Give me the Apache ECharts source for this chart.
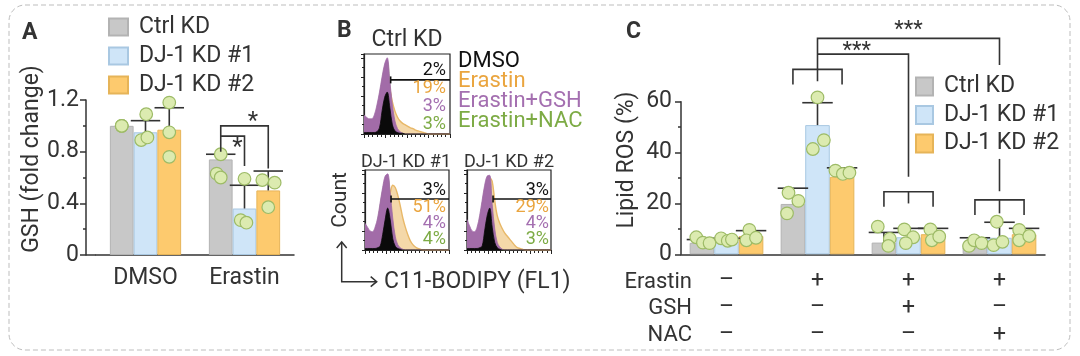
<!DOCTYPE html>
<html><head><meta charset="utf-8">
<script src="https://cdn.jsdelivr.net/npm/echarts@6/dist/echarts.min.js"></script>
<style>html,body{margin:0;padding:0;background:#fff}#c{width:1080px;height:356px}</style>
</head><body><div id="c"></div><script>
// ---------- DATA ----------
const seriesNames = ['Ctrl KD', 'DJ-1 KD #1', 'DJ-1 KD #2'];

// Panel A: GSH (fold change)
const gshCategories = ['DMSO', 'Erastin'];
const gshMeanCtrl = [1.00, 0.74];
const gshMeanKD1 = [0.95, 0.36];
const gshMeanKD2 = [0.97, 0.50];
const gshUpperCtrl = [1.00, 0.78];
const gshUpperKD1 = [1.04, 0.54];
const gshUpperKD2 = [1.14, 0.65];
const gshPtsCtrl = [[1.00, 1.00, 1.00], [0.78, 0.63, 0.60]];
const gshPtsKD1 = [[1.09, 0.89, 0.91], [0.59, 0.27, 0.25]];
const gshPtsKD2 = [[1.18, 0.95, 0.76], [0.58, 0.56, 0.37]];
const gshJitCtrl = [[0, 0, 0], [0, -0.17, 0]];
const gshJitKD1 = [[0.03, -0.18, 0.08], [0, -0.16, 0.08]];
const gshJitKD2 = [[0, 0, 0], [-0.25, 0.27, 0]];
const gshTicks = [0, 0.4, 0.8, 1.2];
// brackets: polylines of [category, bar slot, value]
const gshBrackets = [
  [[1, 0, 0.80], [1, 0, 1.00], [1, 2, 1.00], [1, 2, 0.67]],
  [[1, 0, 0.92], [1, 1, 0.92], [1, 1, 0.69]]
];
const gshStars = [[1, 1.35, 1.07, '*'], [1, 0.7, 0.87, '*']];

// Panel B: flow cytometry histograms (relative counts vs. gate position)
const histX = [0,0.03,0.06,0.09,0.12,0.15,0.18,0.21,0.24,0.27,0.30,0.33,0.36,0.39,0.42,0.45,0.48,0.51,0.54,0.57,0.60,0.63,0.66,0.69,0.72,0.75,0.85,1.0];
const histCtrlDMSO = [0.02,0.02,0.02,0.02,0.02,0.03,0.08,0.30,0.48,0.55,0.35,0.12,0.04,0.02,0.01,0.01,0,0,0,0,0,0,0,0,0,0,0,0];
const histCtrlErastin = [0.05,0.05,0.05,0.06,0.10,0.20,0.35,0.55,0.72,0.75,0.60,0.42,0.30,0.22,0.17,0.14,0.12,0.10,0.08,0.07,0.05,0.04,0.03,0.02,0.01,0,0,0];
const histCtrlGSH = [0.25,0.22,0.20,0.20,0.25,0.38,0.55,0.75,0.92,1.00,0.70,0.38,0.17,0.07,0.03,0.01,0,0,0,0,0,0,0,0,0,0,0,0];
const histCtrlNAC = [0.20,0.18,0.16,0.16,0.20,0.32,0.50,0.70,0.88,0.95,0.65,0.33,0.14,0.05,0.02,0,0,0,0,0,0,0,0,0,0,0,0,0];
const histKD1DMSO = [0.02,0.02,0.02,0.02,0.02,0.03,0.05,0.20,0.40,0.55,0.40,0.15,0.05,0.02,0.01,0,0,0,0,0,0,0,0,0,0,0,0,0];
const histKD1Erastin = [0.05,0.05,0.05,0.05,0.06,0.08,0.12,0.20,0.35,0.60,0.75,0.85,0.82,0.72,0.58,0.42,0.30,0.20,0.12,0.07,0.04,0.02,0.01,0,0,0,0,0];
const histKD1GSH = [0.35,0.30,0.25,0.24,0.30,0.42,0.62,0.82,0.97,1.00,0.75,0.42,0.18,0.07,0.03,0.01,0,0,0,0,0,0,0,0,0,0,0,0];
const histKD1NAC = [0.30,0.26,0.22,0.20,0.26,0.38,0.58,0.78,0.92,0.95,0.70,0.38,0.15,0.05,0.02,0,0,0,0,0,0,0,0,0,0,0,0,0];
const histKD2DMSO = [0.02,0.02,0.02,0.02,0.02,0.03,0.05,0.25,0.45,0.55,0.30,0.10,0.03,0.01,0,0,0,0,0,0,0,0,0,0,0,0,0,0];
const histKD2Erastin = [0.05,0.05,0.05,0.05,0.06,0.10,0.20,0.40,0.70,0.95,0.90,0.65,0.45,0.35,0.28,0.22,0.18,0.14,0.10,0.06,0.03,0.02,0.01,0,0,0,0,0];
const histKD2GSH = [0.40,0.32,0.25,0.24,0.30,0.45,0.65,0.85,0.97,0.98,0.60,0.28,0.10,0.04,0.01,0,0,0,0,0,0,0,0,0,0,0,0,0];
const histKD2NAC = [0.32,0.27,0.22,0.20,0.26,0.40,0.60,0.80,0.92,0.93,0.55,0.24,0.08,0.03,0,0,0,0,0,0,0,0,0,0,0,0,0,0];
const histTitles = ['Ctrl KD', 'DJ-1 KD #1', 'DJ-1 KD #2'];
const gateStart = [0.31, 0.31, 0.31];
const gateLevel = [0.71, 0.67, 0.67];
const treatNames = ['DMSO', 'Erastin', 'Erastin+GSH', 'Erastin+NAC'];
const pctCtrl = ['2%', '19%', '3%', '3%'];
const pctKD1 = ['3%', '51%', '4%', '4%'];
const pctKD2 = ['3%', '29%', '4%', '3%'];

// Panel C: Lipid ROS (%)
const rosCategories = ['DMSO', 'Erastin', 'Erastin+GSH', 'Erastin+NAC'];
const rowErastin = ['–', '+', '+', '+'];
const rowGSH = ['–', '–', '+', '–'];
const rowNAC = ['–', '–', '–', '+'];
const rosMeanCtrl = [4.5, 19.8, 4.6, 4.3];
const rosMeanKD1 = [5.0, 50.8, 6.7, 6.5];
const rosMeanKD2 = [7.2, 30.5, 7.9, 7.9];
const rosUpperCtrl = [5.8, 26.0, 8.6, 6.5];
const rosUpperKD1 = [6.3, 59.6, 10.2, 12.6];
const rosUpperKD2 = [9.3, 34.0, 10.2, 10.2];
const rosPtsCtrl = [[6.7, 4.6, 4.4], [24.2, 21.0, 16.1], [10.9, 6.1, 3.3], [3.3, 5.5, 4.4]];
const rosPtsKD1 = [[6.3, 5.3, 5.8], [61.7, 41.4, 44.9], [9.8, 6.7, 4.4], [12.8, 3.6, 4.9]];
const rosPtsKD2 = [[9.6, 5.5, 6.5], [32.9, 31.6, 32.1], [9.8, 5.5, 7.0], [9.6, 5.5, 7.2]];
const rosJitCtrl = [[-0.23, 0.04, 0.31], [-0.18, 0.22, -0.24], [-0.25, 0.24, 0.18], [-0.24, -0.03, 0.27]];
const rosJitKD1 = [[-0.22, 0.05, 0.22], [0, -0.19, 0.26], [-0.17, 0.19, -0.11], [-0.11, -0.24, 0.12]];
const rosJitKD2 = [[-0.07, -0.19, 0.2], [-0.27, 0.03, 0.3], [-0.11, -0.05, 0.25], [-0.2, -0.2, 0.21]];
const rosTicks = [0, 20, 40, 60];
const rosBrackets = [
  [[1, 0, 66.8], [1, 0, 72.7], [1, 2, 72.7], [1, 2, 66.8]],
  [[1, 1, 68.0], [1, 1, 84.9], [3, 1, 84.9], [3, 1, 74.4]],
  [[1, 1, 78.7], [2, 1, 78.7], [2, 1, 30.5]],
  [[2, 0, 18.7], [2, 0, 24.6], [2, 2, 24.6], [2, 2, 18.7]],
  [[2, 1, 24.6], [2, 1, 20.0]],
  [[3, 1, 37.5], [3, 1, 24.8]],
  [[3, 0, 15.5], [3, 0, 21.4], [3, 2, 21.4], [3, 2, 15.5]],
  [[3, 1, 21.4], [3, 1, 16.1]]
];
const rosStars = [[1, 2.6, 81.6, '***'], [2, 1, 89.8, '***']];

// ---------- STYLE ----------
const FONT = 'Roboto, "Noto Sans", sans-serif';
const TXT = '#333';
const FS = 23;
const barFill = ['#c8c8c8', '#cfe5f8', '#fdca6e'];
const barEdge = ['#b3b3b3', '#a9c8e2', '#e6b458'];
const dotFill = '#dcebb0';
const dotEdge = '#9dbb66';
const histColors = { DMSO: '#0a0a0a', Erastin: '#efc884', GSH: '#a26ca8', NAC: '#8cb85e' };

const chart = echarts.init(document.getElementById('c'), null, { renderer: 'canvas' });

function barSeries(ax, data, k, width) {
  return {
    type: 'bar', name: seriesNames[k], xAxisIndex: ax, yAxisIndex: ax, data: data,
    barWidth: width, barGap: '0%', silent: true, z: 2,
    itemStyle: { color: barFill[k], borderColor: barEdge[k], borderWidth: 1 }
  };
}
function errSeries(ax, means, uppers, k, frac) {
  return {
    type: 'custom', xAxisIndex: ax, yAxisIndex: ax, z: 3, clip: false, silent: true,
    data: means.map((m, i) => [i, uppers[i], m]),
    encode: { x: 0, y: 1 },
    renderItem(params, api) {
      if (api.value(1) <= api.value(2)) return null;
      const cat = api.value(0);
      const bw = api.size([1, 0])[0] * frac;
      const x = api.coord([cat, 0])[0] + (k - 1) * bw;
      const yT = api.coord([cat, api.value(1)])[1];
      const yM = api.coord([cat, api.value(2)])[1];
      const h = bw * 0.62;
      const st = { stroke: '#333', lineWidth: 1.6 };
      return { type: 'group', children: [
        { type: 'line', shape: { x1: x, y1: yM, x2: x, y2: yT }, style: st },
        { type: 'line', shape: { x1: x - h, y1: yT, x2: x + h, y2: yT }, style: st }
      ] };
    }
  };
}
function dotSeries(ax, pts, jit, k, frac) {
  const d = [];
  pts.forEach((arr, i) => arr.forEach((v, j) => d.push([i, v, jit[i][j]])));
  return {
    type: 'custom', xAxisIndex: ax, yAxisIndex: ax, z: 4, clip: false, silent: true,
    data: d, encode: { x: 0, y: 1 },
    renderItem(params, api) {
      const cat = api.value(0);
      const bw = api.size([1, 0])[0] * frac;
      const x = api.coord([cat, 0])[0] + (k - 1) * bw + api.value(2) * bw;
      const y = api.coord([cat, api.value(1)])[1];
      return { type: 'circle', shape: { cx: x, cy: y, r: 6.3 },
        style: { fill: dotFill, stroke: dotEdge, lineWidth: 1.2 } };
    }
  };
}
function bracketSeries(ax, brackets, stars, frac, starSize) {
  const items = brackets.map((b, i) => [0, 0, i, 0]).concat(stars.map((s, i) => [0, 0, i, 1]));
  return {
    type: 'custom', xAxisIndex: ax, yAxisIndex: ax, z: 5, clip: false, silent: true,
    data: items, encode: { x: 0, y: 1 },
    renderItem(params, api) {
      const idx = api.value(2), kind = api.value(3);
      const bw = api.size([1, 0])[0] * frac;
      const px = (cat, slot, v) => {
        const c = api.coord([cat, v]);
        return [c[0] + (slot - 1) * bw, c[1]];
      };
      if (kind === 0) {
        const pts = brackets[idx].map(p => px(p[0], p[1], p[2]));
        return { type: 'polyline', shape: { points: pts }, style: { stroke: '#333', lineWidth: 1.6, fill: null } };
      }
      const s = stars[idx];
      const p = px(s[0], s[1], s[2]);
      return { type: 'text', x: p[0], y: p[1] + starSize * 0.22,
        style: { text: s[3], font: starSize + 'px ' + FONT, fill: TXT, align: 'center', verticalAlign: 'middle' } };
    }
  };
}
function histSeries(ax, arr, key, z) {
  const c = histColors[key];
  const isE = key === 'Erastin';
  return {
    type: 'line', xAxisIndex: ax, yAxisIndex: ax, data: histX.map((x, i) => [x, arr[i]]),
    smooth: 0.35, symbol: 'none', silent: true, z: z,
    lineStyle: { color: isE ? '#e8b868' : c, width: isE ? 1.4 : 0.8 },
    areaStyle: { color: c, opacity: isE ? 0.7 : 1 }
  };
}
function gateSeries(ax, b) {
  return {
    type: 'custom', xAxisIndex: ax, yAxisIndex: ax, z: 6, silent: true, clip: false,
    data: [[gateStart[b], gateLevel[b]]], encode: { x: 0, y: 1 },
    renderItem(params, api) {
      const p = api.coord([api.value(0), api.value(1)]);
      const e = api.coord([1, api.value(1)]);
      const st = { stroke: '#111', lineWidth: 1.6 };
      return { type: 'group', children: [
        { type: 'line', shape: { x1: p[0], y1: p[1], x2: e[0], y2: e[1] }, style: st },
        { type: 'line', shape: { x1: p[0], y1: p[1] - 3.5, x2: p[0], y2: p[1] + 3.5 }, style: st }
      ] };
    }
  };
}

const axisLineStyle = { color: '#333', width: 1.5 };
const histGrids = [
  { left: 364, top: 54, width: 86, height: 80 },
  { left: 365, top: 170, width: 84, height: 80 },
  { left: 467, top: 170, width: 84, height: 80 }
];

const grids = [
  { left: 96, top: 100, width: 198, height: 155 },
  ...histGrids.map(g => Object.assign({ show: true, borderColor: '#222', borderWidth: 1.2 }, g)),
  { left: 681, top: 101.7, width: 364, height: 152.6 }
];

const xAxes = [
  { gridIndex: 0, type: 'category', data: gshCategories,
    axisLine: { lineStyle: axisLineStyle }, axisTick: { alignWithLabel: true, length: 8, lineStyle: axisLineStyle },
    axisLabel: { color: TXT, fontSize: FS, fontFamily: FONT, margin: 12 } },
  ...[1, 2, 3].map(g => ({ gridIndex: g, type: 'value', min: 0, max: 1, interval: 0.25,
    axisLine: { lineStyle: { color: '#222', width: 1.2 } },
    axisTick: { length: 4, lineStyle: { color: '#222' } },
    minorTick: { show: true, splitNumber: 5, length: 3, lineStyle: { color: '#222' } },
    axisLabel: { show: false }, splitLine: { show: false } })),
  { gridIndex: 4, type: 'category', data: rosCategories,
    axisLine: { lineStyle: axisLineStyle }, axisTick: { alignWithLabel: true, length: 8, lineStyle: axisLineStyle },
    axisLabel: { color: TXT, fontSize: FS, fontFamily: FONT, margin: 14, lineHeight: 26.7,
      formatter: (v, i) => rowErastin[i] + '\n' + rowGSH[i] + '\n' + rowNAC[i] } }
];
const yAxes = [
  { gridIndex: 0, type: 'value', min: gshTicks[0], max: gshTicks[gshTicks.length - 1], interval: gshTicks[1] - gshTicks[0], offset: 10,
    axisLine: { show: true, lineStyle: axisLineStyle }, axisTick: { show: true, length: 6, lineStyle: axisLineStyle },
    minorTick: { show: true, splitNumber: 2, length: 3, lineStyle: axisLineStyle },
    axisLabel: { color: TXT, fontSize: FS, fontFamily: FONT, margin: 7, formatter: v => String(v) },
    splitLine: { show: false } },
  ...[1, 2, 3].map(g => ({ gridIndex: g, type: 'value', min: 0, max: 1.05, interval: 0.25,
    axisLine: { show: true, lineStyle: { color: '#222', width: 1.2 } },
    axisTick: { show: true, length: 3, lineStyle: { color: '#222' } },
    minorTick: { show: true, splitNumber: 2, length: 2, lineStyle: { color: '#222' } },
    axisLabel: { show: false }, splitLine: { show: false } })),
  { gridIndex: 4, type: 'value', min: rosTicks[0], max: rosTicks[rosTicks.length - 1], interval: rosTicks[1] - rosTicks[0],
    axisLine: { show: true, lineStyle: axisLineStyle }, axisTick: { show: true, length: 6, lineStyle: axisLineStyle },
    minorTick: { show: true, splitNumber: 2, length: 3, lineStyle: axisLineStyle },
    axisLabel: { color: TXT, fontSize: FS, fontFamily: FONT, margin: 9 },
    splitLine: { show: false } }
];

const gshMeans = [gshMeanCtrl, gshMeanKD1, gshMeanKD2];
const gshUppers = [gshUpperCtrl, gshUpperKD1, gshUpperKD2];
const gshPts = [gshPtsCtrl, gshPtsKD1, gshPtsKD2];
const gshJit = [gshJitCtrl, gshJitKD1, gshJitKD2];
const rosMeans = [rosMeanCtrl, rosMeanKD1, rosMeanKD2];
const rosUppers = [rosUpperCtrl, rosUpperKD1, rosUpperKD2];
const rosPts = [rosPtsCtrl, rosPtsKD1, rosPtsKD2];
const rosJit = [rosJitCtrl, rosJitKD1, rosJitKD2];
const FA = 0.24, FC = 0.27;

const series = [];
[0, 1, 2].forEach(k => {
  series.push(barSeries(0, gshMeans[k], k, (FA * 100) + '%'));
  series.push(errSeries(0, gshMeans[k], gshUppers[k], k, FA));
  series.push(dotSeries(0, gshPts[k], gshJit[k], k, FA));
  series.push(barSeries(4, rosMeans[k], k, (FC * 100) + '%'));
  series.push(errSeries(4, rosMeans[k], rosUppers[k], k, FC));
  series.push(dotSeries(4, rosPts[k], rosJit[k], k, FC));
});
series.push(bracketSeries(0, gshBrackets, gshStars, FA, 24));
series.push(bracketSeries(4, rosBrackets, rosStars, FC, 22));
const hists = [
  [histCtrlDMSO, histCtrlErastin, histCtrlGSH, histCtrlNAC],
  [histKD1DMSO, histKD1Erastin, histKD1GSH, histKD1NAC],
  [histKD2DMSO, histKD2Erastin, histKD2GSH, histKD2NAC]
];
hists.forEach((h, b) => {
  const ax = b + 1;
  series.push(histSeries(ax, h[3], 'NAC', 1));
  series.push(histSeries(ax, h[1], 'Erastin', 2));
  series.push(histSeries(ax, h[2], 'GSH', 3));
  series.push(histSeries(ax, h[0], 'DMSO', 4));
  series.push(gateSeries(ax, b));
});

// ---------- GRAPHIC TEXT ----------
const T = (x, y, text, opts = {}) => ({
  type: 'text', x: x, y: y, rotation: opts.rot || 0, z: 10,
  style: { text: text, fill: opts.color || TXT, font: (opts.weight || 'normal') + ' ' + (opts.size || FS) + 'px ' + FONT,
    align: opts.align || 'left', verticalAlign: 'middle' }
});
const pctColors = ['#111', '#eaa53f', '#a46fb0', '#7dab45'];
const graphics = [
  { type: 'rect', shape: { x: 9, y: 5, width: 1061, height: 345, r: 16 }, z: 0,
    style: { fill: null, stroke: '#bdbdbd', lineWidth: 1, lineDash: [5, 3] } },
  { type: 'line', shape: { x1: 86, y1: 255, x2: 96, y2: 255 }, style: { stroke: '#333', lineWidth: 1.5 } },
  T(22, 33, 'A', { weight: 'bold', size: 23 }),
  T(337, 31, 'B', { weight: 'bold', size: 23 }),
  T(626, 32, 'C', { weight: 'bold', size: 23 }),
  T(32, 159, 'GSH (fold change)', { rot: Math.PI / 2, align: 'center' }),
  T(627, 160, 'Lipid ROS (%)', { rot: Math.PI / 2, align: 'center' }),
  T(407, 40, histTitles[0], { align: 'center' }),
  T(406, 162, histTitles[1], { align: 'center', size: 18 }),
  T(509, 162, histTitles[2], { align: 'center', size: 18 }),
  T(340.5, 200, 'Count', { rot: Math.PI / 2, align: 'center', size: 21 }),
  T(384, 282, 'C11-BODIPY (FL1)', {}),
  { type: 'polyline', shape: { points: [[341.7, 242], [341.7, 281.7], [376.7, 281.7]] }, style: { stroke: '#333', lineWidth: 1.5, fill: null } },
  { type: 'polyline', shape: { points: [[336.7, 248], [341.7, 242], [346.7, 248]] }, style: { stroke: '#333', lineWidth: 1.5, fill: null } },
  { type: 'polyline', shape: { points: [[370.7, 276.7], [376.7, 281.7], [370.7, 286.7]] }, style: { stroke: '#333', lineWidth: 1.5, fill: null } },
  T(692, 282, 'Erastin', { align: 'right', size: 22 }),
  T(692, 308.5, 'GSH', { align: 'right', size: 22 }),
  T(692, 335, 'NAC', { align: 'right', size: 22 })
];
[61.7, 81, 101, 121.7].forEach((y, i) => graphics.push(T(458, y, treatNames[i], { color: pctColors[i], size: 22 })));
[[446, [70, 88.3, 106, 124], pctCtrl], [446, [190, 207.5, 223, 239], pctKD1], [549, [190, 207.5, 223, 239], pctKD2]]
  .forEach(([x, ys, arr]) => ys.forEach((y, i) => graphics.push(T(x, y, arr[i], { align: 'right', size: 18, color: pctColors[i] }))));

const legendBase = {
  orient: 'vertical', icon: 'rect', selectedMode: false, data: seriesNames, padding: 0,
  textStyle: { color: TXT, fontSize: FS, fontFamily: FONT, lineHeight: 18, padding: [0, 0, 0, 6] }
};

chart.setOption({
  animation: false,
  backgroundColor: '#fff',
  textStyle: { fontFamily: FONT },
  grid: grids,
  xAxis: xAxes,
  yAxis: yAxes,
  legend: [
    Object.assign({}, legendBase, { left: 108, top: 15.5, itemWidth: 19, itemHeight: 17, itemGap: 6 }),
    Object.assign({}, legendBase, { left: 915, top: 75, itemWidth: 17, itemHeight: 18, itemGap: 5.5 })
  ],
  series: series,
  graphic: graphics
});
</script></body></html>
